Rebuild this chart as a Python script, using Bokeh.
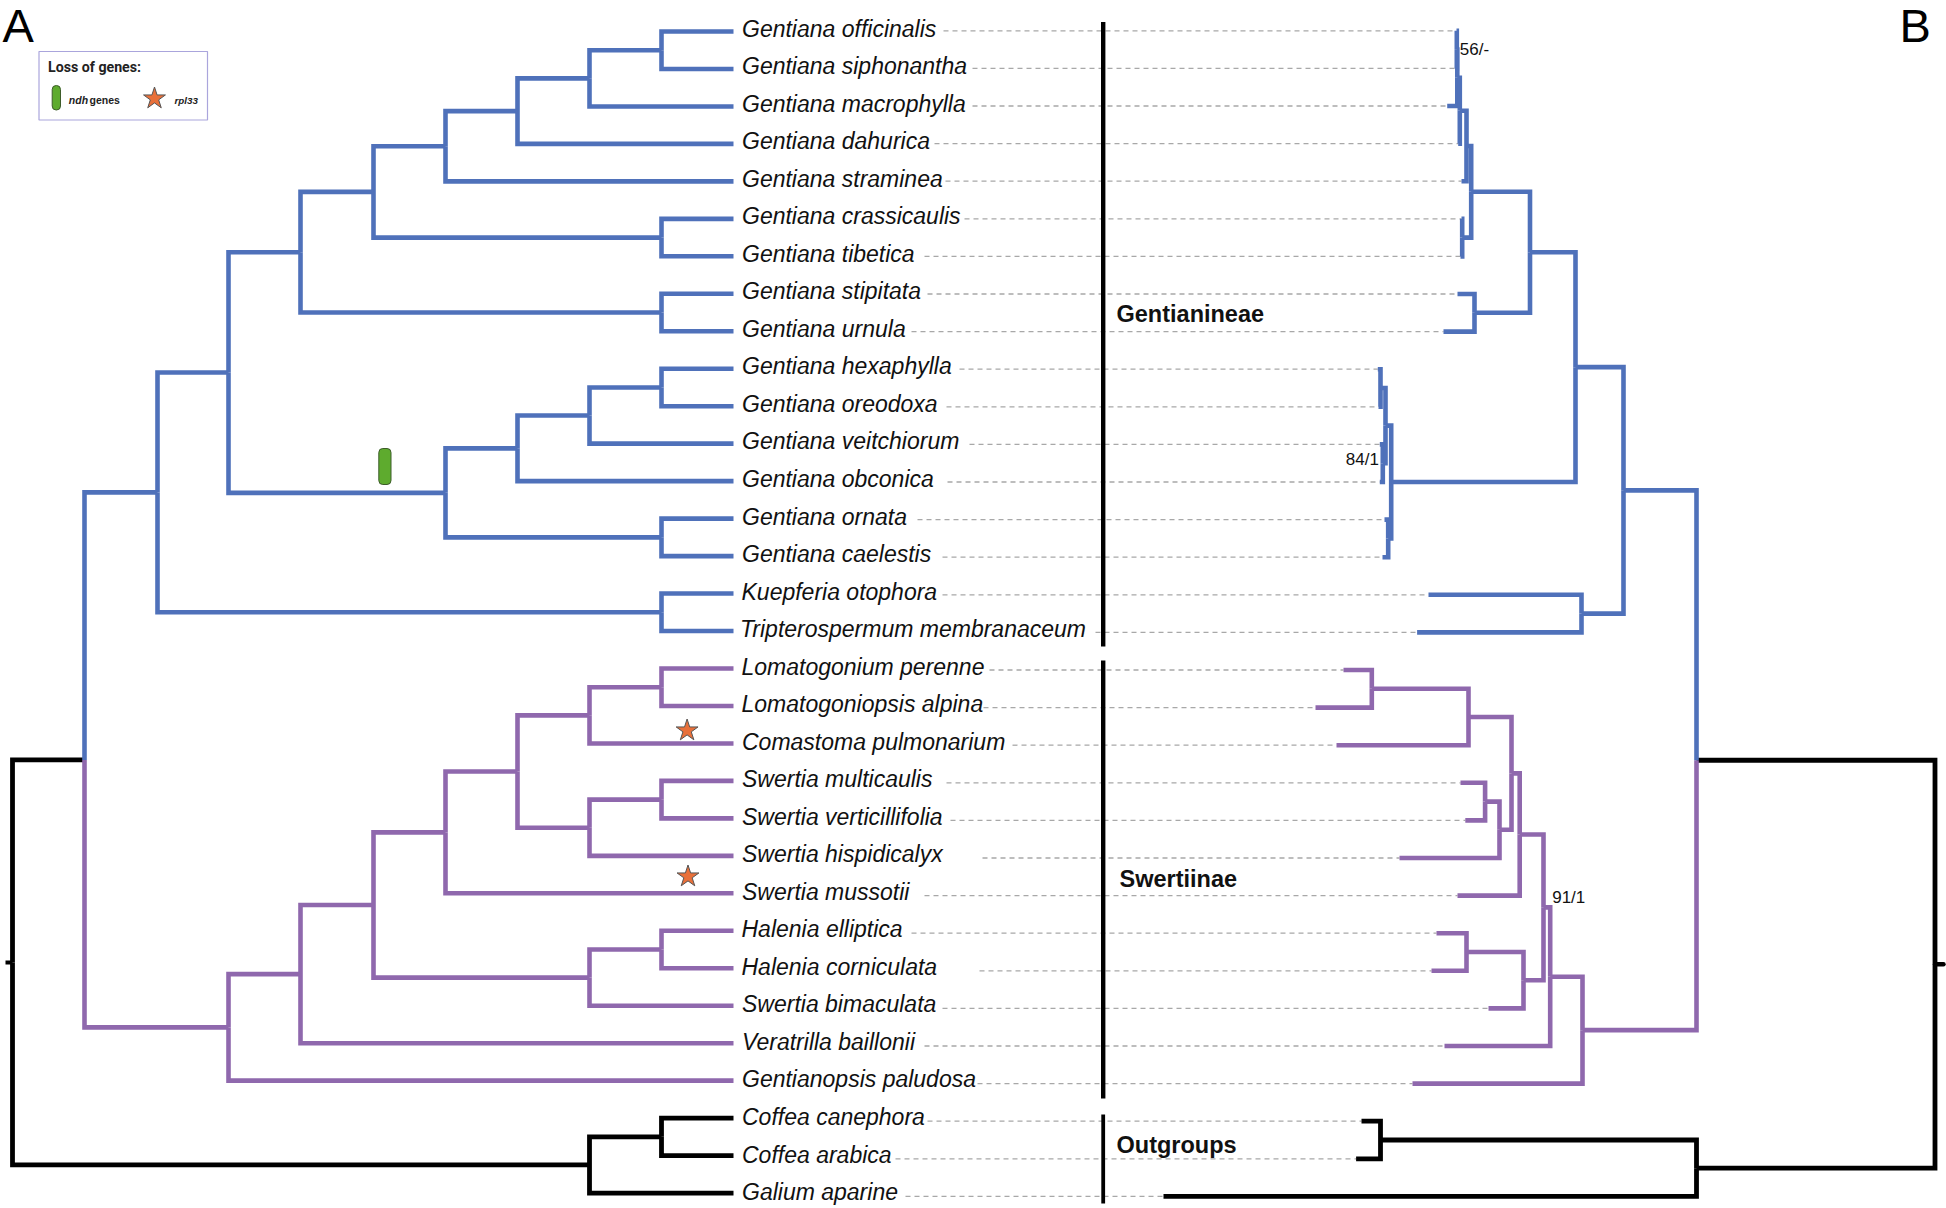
from bokeh.plotting import figure
from bokeh.embed import file_html
from bokeh.resources import INLINE
from bokeh.core.properties import value

species = [
    "Gentiana officinalis", "Gentiana siphonantha", "Gentiana macrophylla", "Gentiana dahurica",
    "Gentiana straminea", "Gentiana crassicaulis", "Gentiana tibetica", "Gentiana stipitata",
    "Gentiana urnula", "Gentiana hexaphylla", "Gentiana oreodoxa", "Gentiana veitchiorum",
    "Gentiana obconica", "Gentiana ornata", "Gentiana caelestis", "Kuepferia otophora",
    "Tripterospermum membranaceum", "Lomatogonium perenne", "Lomatogoniopsis alpina",
    "Comastoma pulmonarium", "Swertia multicaulis", "Swertia verticillifolia", "Swertia hispidicalyx",
    "Swertia mussotii", "Halenia elliptica", "Halenia corniculata", "Swertia bimaculata",
    "Veratrilla baillonii", "Gentianopsis paludosa", "Coffea canephora", "Coffea arabica", "Galium aparine",
]
label_x = [741.5] * 15 + [741, 739.5, 741, 741, 741.5, 741.5, 741.5, 741.5, 741.5, 741, 741, 741.5, 741.5, 741.5, 741.5, 741.5, 741.5]
dash_start = [943, 972, 972, 934, 945, 964, 924, 927, 911, 959, 946, 969, 947, 917, 942, 942, 1095,
              989, 983, 1012, 946, 950, 982, 924, 911, 979, 942, 924, 977, 927, 895, 905]

# Panel A: cladogram, node = (depth level, child, child), leaf = row number
left_levels = [12, 84, 157, 228, 300, 373, 445, 517, 589, 661]
left_tip = 733
left_tree = (0,
    (1,
        (2,
            (3,
                (4,
                    (5,
                        (6,
                            (7,
                                (8, (9, 0, 1), 2),
                                3),
                            4),
                        (9, 5, 6)),
                    (9, 7, 8)),
                (6,
                    (7,
                        (8, (9, 9, 10), 11),
                        12),
                    (9, 13, 14))),
            (9, 15, 16)),
        (3,
            (4,
                (5,
                    (6,
                        (7,
                            (8, (9, 17, 18), 19),
                            (8, (9, 20, 21), 22)),
                        23),
                    (8, (9, 24, 25), 26)),
                27),
            28)),
    (8, (9, 29, 30), 31))

# Panel B: phylogram, node = (node position, child, child), leaf = row number
right_tips = [1456, 1455.5, 1446.7, 1457.7, 1461, 1461, 1460, 1457, 1443, 1377.3, 1378, 1379.3, 1379.3, 1384, 1382,
              1428, 1416.6, 1343, 1315, 1336, 1460, 1464.8, 1399, 1457, 1436, 1431, 1488, 1444, 1412, 1361, 1355.6, 1163]
right_tree = (1934.5,
    (1696,
        (1623,
            (1575,
                (1529.5,
                    (1470.7,
                        (1466, (1459.3, (1456.8, (1456.3, 0, 1), 2), 3), 4),
                        (1461.7, 5, 6)),
                    (1474, 7, 8)),
                (1390.7,
                    (1385, (1380, 9, 10), (1382.3, 11, 12)),
                    (1387.7, 13, 14))),
            (1581, 15, 16)),
        (1582,
            (1549.7,
                (1543,
                    (1519.2,
                        (1511,
                            (1468, (1371.3, 17, 18), 19),
                            (1499, (1484.6, 20, 21), 22)),
                        23),
                    (1523, (1466, 24, 25), 26)),
                27),
            28)),
    (1696, (1380, 29, 30), 31))

left_row0, left_step = 31.0, 37.47
right_row0, right_step = 30.3, 37.6
label_base0, label_step = 35.7, 37.53

BLUE, PURPLE, BLACK = "#4f71ba", "#8f68ad", "#000000"
def clade_colour(rows):
    if max(rows) <= 16:
        return BLUE
    if min(rows) >= 17 and max(rows) <= 28:
        return PURPLE
    if min(rows) >= 29:
        return BLACK
    return BLACK

def layout(node, xof, tipx, row0, step, out):
    """returns (x, y, rows); adds one path per child edge to out"""
    if isinstance(node, int):
        return tipx(node), row0 + step * node, [node]
    x = xof(node[0])
    placed = [layout(c, xof, tipx, row0, step, out) for c in node[1:]]
    y = sum(q[1] for q in placed) / len(placed)
    rows = []
    for cx, cy, crows in placed:
        out.append(([cx, x, x], [cy, cy, y], clade_colour(crows)))
        rows += crows
    return x, y, rows

left_paths, right_paths = [], []
lroot = layout(left_tree, lambda l: left_levels[l], lambda r: left_tip, left_row0, left_step, left_paths)
root = layout(right_tree, lambda v: v, lambda r: right_tips[r], right_row0, right_step, right_paths)

p = figure(width=1946, height=1208, x_range=(0, 1946), y_range=(1208, 0), output_backend="svg",
           toolbar_location=None, min_border=0, outline_line_color=None)
p.axis.visible = False
p.grid.visible = False
p.background_fill_color = "#ffffff"
p.border_fill_color = "#ffffff"

TEXT_SHIFT = 0.33
def base(y, size):
    return y - TEXT_SHIFT * size

# dashed connectors
dash_y = [right_row0 + right_step * i for i in range(len(species))]
p.multi_line([[dash_start[i], right_tips[i]] for i in range(len(species))],
             [[dash_y[i], dash_y[i]] for i in range(len(species))],
             line_color="#a8a8a8", line_width=1.3, line_dash="5 4")

# central bars
bar_x = 1102.7
bar_spans = [(21.5, 646, 4.4), (660, 1098, 4.4), (1114, 1203, 3.8)]
for y0, y1, w in bar_spans:
    p.line([bar_x, bar_x], [y0, y1], line_color="#000000", line_width=w)

# trees: black first so coloured clades sit on top
for paths in (left_paths, right_paths):
    for col in (BLACK, PURPLE, BLUE):
        sub = [q for q in paths if q[2] == col]
        p.multi_line([q[0] for q in sub], [q[1] for q in sub], line_color=col,
                     line_width=4.8 if col == BLACK else 4.6, line_join="miter", line_cap="butt")

# root stubs
p.line([5, lroot[0]], [lroot[1], lroot[1]], line_color="#000000", line_width=4)
p.line([root[0], 1943], [root[1], root[1]], line_color="#000000", line_width=4.4, line_cap="round")

# species labels
S = 23
p.text(label_x, [base(label_base0 + label_step * i, S) for i in range(len(species))], species,
       text_font=value("Liberation Sans"), text_font_style="italic", text_font_size=f"{S}px",
       text_color="#111111", text_baseline="alphabetic", text_align="left")

# group labels
G = 23.5
p.text([1116, 1119, 1116], [base(y, G) for y in (321.7, 886.7, 1152.7)], ["Gentianineae", "Swertiinae", "Outgroups"],
       text_font=value("Liberation Sans"), text_font_style="bold", text_font_size=f"{G}px",
       text_color="#111111", text_baseline="alphabetic")

# support values
N = 17
p.text([1459.3, 1345.3, 1551.7], [base(y, N) for y in (55, 465, 902.7)], ["56/-", "84/1", "91/1"],
       text_font=value("Liberation Sans"), text_font_size=f"{N}px", text_color="#111111", text_baseline="alphabetic")

# panel letters
L = 47
p.text([2, 1899], [base(41, L)] * 2, ["A", "B"], text_font=value("Liberation Sans"), text_font_size=f"{L}px",
       text_color="#000000", text_baseline="alphabetic")

# legend
p.quad(left=[38.5], right=[207], top=[51], bottom=[119.5], fill_color=None, line_color="#aaa5dc", line_width=1.2)
T = 14.2
p.text([47.5], [base(71.5, T)], ["Loss of genes:"], text_font=value("Roboto"), text_font_style="bold", text_font_size=f"{T}px",
       text_color="#222222", text_baseline="alphabetic")
K = 10.5
p.text([68.3], [base(103, K)], ["ndh"], text_font=value("Liberation Sans"), text_font_style="bold italic", text_font_size=f"{K}px",
       text_color="#222222", text_baseline="alphabetic")
p.text([89], [base(103, K)], ["genes"], text_font=value("Liberation Sans"), text_font_style="bold", text_font_size=f"{K}px",
       text_color="#222222", text_baseline="alphabetic")
p.text([174], [base(103, K)], ["rpl33"], text_font=value("Liberation Sans"), text_font_style="bold italic", text_font_size="9.8px",
       text_color="#222222", text_baseline="alphabetic")

# gene-loss markers
p.quad(left=[378.3, 51.7], right=[390.5, 60], top=[448, 85], bottom=[484, 109.5], fill_color="#5eab2e",
       line_color="#3d5c2a", line_width=1, border_radius=4)
p.scatter([686.6, 687.5, 154], [730, 876, 98], marker="star", size=[23, 23, 23], fill_color="#e8703a",
          line_color="#555555", line_width=1)

open("out.html", "w").write(file_html(p, INLINE))
